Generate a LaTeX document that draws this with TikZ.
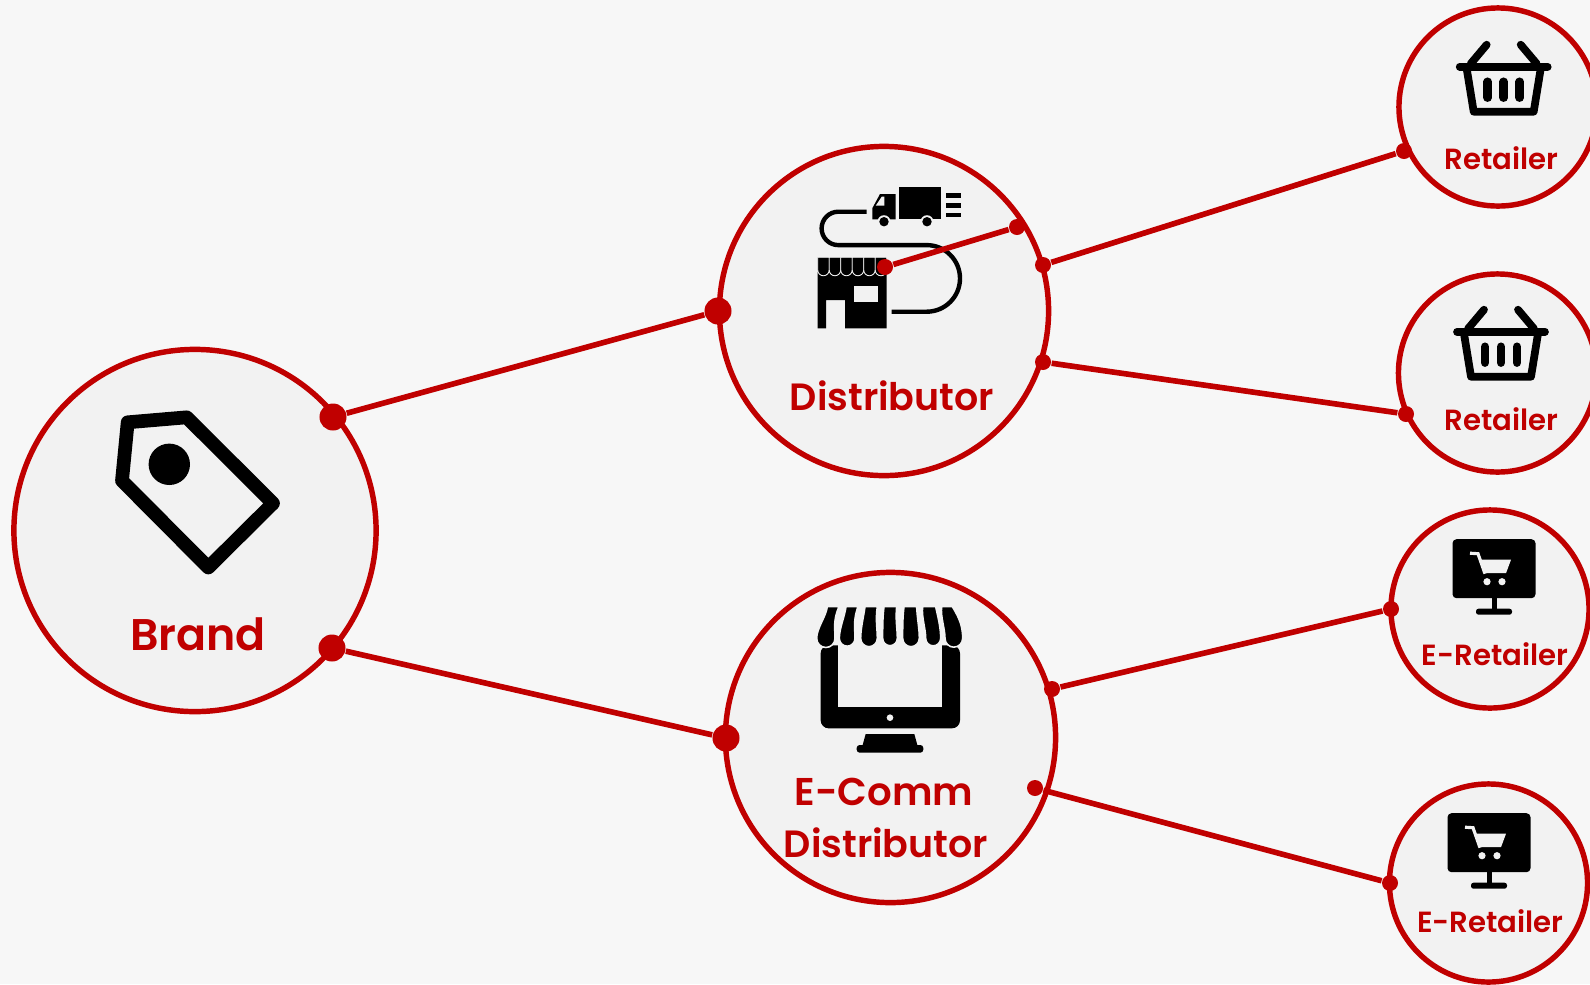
\documentclass[tikz,border=0pt]{standalone}
\usepackage{fontspec}
\setsansfont{Poppins}[BoldFont={Poppins SemiBold}]
\definecolor{brandred}{HTML}{C00000}
\definecolor{discgray}{HTML}{F2F2F2}
\definecolor{pagegray}{HTML}{F7F7F7}
\tikzset{
    bubble/.style={circle,draw=brandred,fill=discgray,line width=1.55pt,inner sep=0pt},
    bigdot/.style={circle,fill=brandred,inner sep=0pt,minimum size=0.27cm},
    smalldot/.style={circle,fill=brandred,inner sep=0pt,minimum size=0.16cm},
    link/.style={draw=brandred,line width=1.6pt},
    title/.style={text=brandred,anchor=base,align=center,inner sep=0pt,font=\sffamily\bfseries}
}
\newcommand{\basket}[1]{
    \begin{scope}[shift={#1},line width=2.2pt,line cap=round,line join=round]
        \draw (-44,0) -- (44,0);
        \draw (-33,-3) -- (-17,-22);
        \draw (33,-3) -- (17,-22);
        \draw (-37,2) -- (-30,45) -- (30,45) -- (37,2);
        \draw[line width=2.4pt] (-16,15) -- (-16,31);
        \draw[line width=2.4pt] (0,15) -- (0,31);
        \draw[line width=2.4pt] (16,15) -- (16,31);
    \end{scope}
}
\newcommand{\cartscreen}[1]{
    \begin{scope}[shift={#1}]
        \fill[rounded corners=0.4mm] (-41.5,-29.5) rectangle (41.5,29.5);
        \fill (-2.5,29) rectangle (2.5,42);
        \fill[rounded corners=0.25mm] (-18,40) rectangle (18,46);
        \fill[discgray] (-14,-9) -- (17,-9) -- (12,4.5) -- (-9,4.5) -- cycle;
        \draw[discgray,line width=0.9pt] (-24,-15.5) -- (-16,-15) -- (-9,5);
        \fill[discgray] (-7,13) circle (3.6);
        \fill[discgray] (8,13) circle (3.6);
    \end{scope}
}

\begin{document}
\begin{tikzpicture}[x=0.01cm,y=-0.01cm]
    \clip (0,0) rectangle (1590,984);
    \fill[pagegray] (0,0) rectangle (1590,984);

    \node[bubble,minimum size=3.62cm] (brand) at (195,530.5) {};
    \node[bubble,minimum size=3.29cm] (distributor) at (884,311) {};
    \node[bubble,minimum size=3.30cm] (ecomm) at (890.5,737.5) {};
    \node[bubble,minimum size=1.98cm] (retailerA) at (1498,107) {};
    \node[bubble,minimum size=1.98cm] (retailerB) at (1497.5,373) {};
    \node[bubble,minimum size=1.98cm] (eretailerA) at (1490,609) {};
    \node[bubble,minimum size=1.98cm] (eretailerB) at (1488.5,883) {};

    \draw[line width=3.9pt,line join=round] (127.7,422.3) -- (186.7,417.3) -- (273,503.3) -- (208.3,567.5) -- (122,480.7) -- cycle;
    \fill (169.3,464.3) circle (20.7);

    \basket{(1503.7,66.7)}
    \basket{(1501,331.7)}
    \cartscreen{(1494,568.7)}
    \cartscreen{(1489,842.7)}

    \fill (899,186.7) rectangle (941,219.3);
    \fill (872.3,208.3) -- (880,194) -- (895.7,194) -- (895.7,219.3) -- (872.3,219.3) -- cycle;
    \fill[discgray] (875.7,205.7) -- (881.7,196.7) -- (884.3,196.7) -- (884.3,205.7) -- cycle;
    \fill[discgray] (884,221.7) circle (6.5);
    \fill[discgray] (927,221.7) circle (6.5);
    \fill (884,221.7) circle (4.7);
    \fill (927,221.7) circle (4.7);
    \fill (946,193.3) rectangle (960.7,198.3);
    \fill (946,203.3) rectangle (960.7,208);
    \fill (946,212.7) rectangle (960.7,217.3);

    \draw[line width=1.25pt] (866.7,211.7) -- (838.3,211.7) arc (-90:-270:16.7) -- (926.7,245.1) arc (-90:90:33.3) -- (891.7,311.7);

    \fill (817.7,272) -- (886.7,272) -- (886.7,328.3) -- (845,328.3) -- (845,300) -- (826,300) -- (826,328.3) -- (817.7,328.3) -- cycle;
    \fill[discgray] (854.3,285.7) rectangle (878.3,302.3);
    \foreach \stripe in {817.7,829.2,840.7,852.2,863.7,875.2}
        \draw[fill=black,draw=discgray,line width=0.25pt] (\stripe,257.3) -- (\stripe+11.5,257.3) -- (\stripe+11.5,270) arc (0:180:5.75) -- cycle;

    \begin{scope}[shift={(720,570)},scale=1/3]
        \fill[rounded corners=0.8mm] (302,226) rectangle (720,475);
        \fill[discgray] (353,200) rectangle (667,410);
        \fill[discgray] (510,443) circle (10);
        \fill (437,492) -- (583,492) -- (592,525) -- (428,525) -- cycle;
        \fill[rounded corners=0.3mm] (410,525) rectangle (610,548);
        \foreach \tl/\tr/\bl/\br in {322/357/290/345,378/414/358/405,435/472/422/472,492/530/488/532,552/590/548/598,608/647/617/662,665/697/675/728}
            \draw[fill=black,draw=discgray,line width=0.45pt] (\tl,110) -- (\tr,110) .. controls (\br-6,150) and (\br,175) .. (\br,205) arc (0:180:{(\br-\bl)/2}) .. controls (\bl,175) and (\tl-4,140) .. (\tl,110) -- cycle;
    \end{scope}

    \node[title,font=\sffamily\bfseries\fontsize{12.6}{14}\selectfont] (brandlabel) at (198,650) {Brand};
    \node[title,font=\sffamily\bfseries\fontsize{10.8}{13}\selectfont] (distributorlabel) at (892,410) {Distributor};
    \node[title,font=\sffamily\bfseries\fontsize{11}{13}\selectfont] (ecommlabel) at (884,805) {E-Comm};
    \node[title,font=\sffamily\bfseries\fontsize{10.8}{13}\selectfont] (ecommlabelB) at (886,857) {Distributor};
    \node[title,font=\sffamily\bfseries\fontsize{8.3}{10}\selectfont] (retailerAlabel) at (1501.5,169) {Retailer};
    \node[title,font=\sffamily\bfseries\fontsize{8.3}{10}\selectfont] (retailerBlabel) at (1501.5,430) {Retailer};
    \node[title,font=\sffamily\bfseries\fontsize{8.3}{10}\selectfont] (eretailerAlabel) at (1495,665) {E-Retailer};
    \node[title,font=\sffamily\bfseries\fontsize{8.3}{10}\selectfont] (eretailerBlabel) at (1490.5,932) {E-Retailer};

    \node[bigdot] (brandtop) at (333,417) {};
    \node[bigdot] (brandlow) at (332,648) {};
    \node[bigdot] (distin) at (718,311) {};
    \node[bigdot] (ecommin) at (726,738) {};
    \node[smalldot] (distshop) at (885,267) {};
    \node[smalldot] (disttruck) at (1017,227) {};
    \node[smalldot] (distoutA) at (1043,265) {};
    \node[smalldot] (distoutB) at (1043,362) {};
    \node[smalldot] (ecommoutA) at (1052,689) {};
    \node[smalldot] (ecommoutB) at (1035,788) {};
    \node[smalldot] (retailerAin) at (1404,151) {};
    \node[smalldot] (retailerBin) at (1406,414) {};
    \node[smalldot] (eretailerAin) at (1391,609) {};
    \node[smalldot] (eretailerBin) at (1390,883) {};

    \draw[link] (brandtop) -- (distin);
    \draw[link] (brandlow) -- (ecommin);
    \draw[link] (distshop) -- (disttruck);
    \draw[link] (distoutA) -- (retailerAin);
    \draw[link] (distoutB) -- (retailerBin);
    \draw[link] (ecommoutA) -- (eretailerAin);
    \draw[link] (ecommoutB) -- (eretailerBin);
\end{tikzpicture}
\end{document}
